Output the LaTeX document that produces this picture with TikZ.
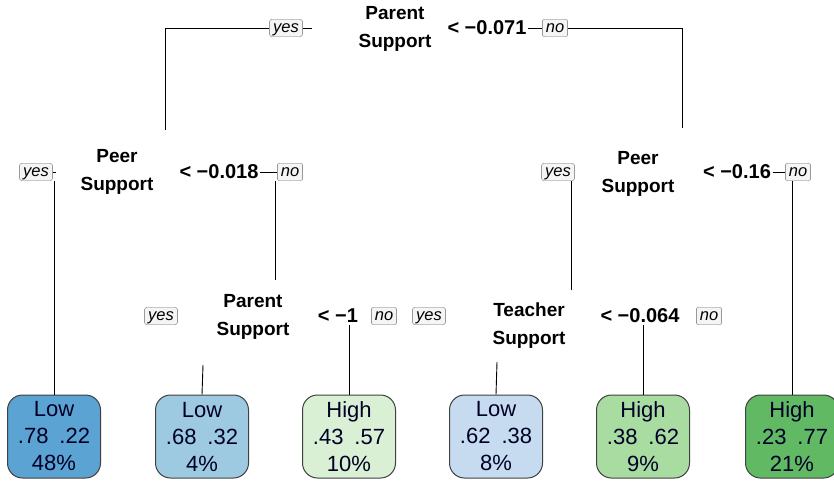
\documentclass[tikz,border=0pt]{standalone}
\usepackage{fontspec}
\setmainfont{Liberation Sans}
\usetikzlibrary{positioning}

\definecolor{leafA}{HTML}{5BA3D3}
\definecolor{leafB}{HTML}{9ECAE1}
\definecolor{leafC}{HTML}{DAF0D4}
\definecolor{leafD}{HTML}{C6DBEF}
\definecolor{leafE}{HTML}{A8DCA0}
\definecolor{leafF}{HTML}{62B964}

\begin{document}
\begin{tikzpicture}[
  x=1pt, y=-1pt,
  leaf/.style={draw=black!75, line width=1pt, rounded corners=15pt,
    minimum width=93pt, minimum height=83pt, align=center,
    font=\fontsize{22}{27}\selectfont, text=black!85!blue},
  split/.style={align=center, font=\bfseries\fontsize{19}{28}\selectfont},
  cond/.style={font=\bfseries\fontsize{20}{24}\selectfont, inner sep=1.5pt},
  yesno/.style={draw=black!60, fill=black!4, rounded corners=2pt,
    font=\itshape\fontsize{16.5}{16.5}\selectfont, inner xsep=3.5pt, inner ysep=0pt,
    minimum height=17pt, text height=9pt, text depth=0pt},
  edge/.style={line width=0.9pt}
]
\useasboundingbox (0,0) rectangle (834,486);

% Root split
\node[split] (s1) at (395,29) {Parent\\Support};
\node[cond] (c1) at (487,28) {< −0.071};
\node[yesno] (y1) at (286,28) {yes};
\node[yesno] (n1) at (555,28) {no};
\coordinate (t1) at (312,28);
\coordinate (e1) at (165,130);
\coordinate (e2) at (682,128);

% Left split
\node[split] (s2) at (117,172) {Peer\\Support};
\node[cond] (c2) at (219,172) {< −0.018};
\node[yesno] (y2) at (36,172) {yes};
\node[yesno] (n2) at (290,172) {no};
\coordinate (e3) at (275,280);

% Right split
\node[split] (s4) at (638,174) {Peer\\Support};
\node[cond] (c4) at (737,172) {< −0.16};
\node[yesno] (y4) at (558,172) {yes};
\node[yesno] (n4) at (798,172) {no};
\coordinate (e5) at (571,290);

% Lower splits
\node[split] (s3) at (253,317) {Parent\\Support};
\node[cond] (c3) at (338,316) {< −1};
\node[yesno] (y3) at (161,316) {yes};
\node[yesno] (n3) at (384,316) {no};
\coordinate (e4) at (203,365);

\node[split] (s5) at (529,326) {Teacher\\Support};
\node[cond] (c5) at (640,316) {< −0.064};
\node[yesno] (y5) at (429,316) {yes};
\node[yesno] (n5) at (709,316) {no};
\coordinate (e6) at (497,362);

% Leaves
\node[leaf, fill=leafA] (L1) at (54,436.5) {Low\\.78\hspace{11pt}.22\\48\%};
\node[leaf, fill=leafB] (L2) at (202,436.5) {Low\\.68\hspace{11pt}.32\\4\%};
\node[leaf, fill=leafC] (L3) at (349,436.5) {High\\.43\hspace{11pt}.57\\10\%};
\node[leaf, fill=leafD] (L4) at (496,436.5) {Low\\.62\hspace{11pt}.38\\8\%};
\node[leaf, fill=leafE] (L5) at (643,436.5) {High\\.38\hspace{11pt}.62\\9\%};
\node[leaf, fill=leafF] (L6) at (792,436.5) {High\\.23\hspace{11pt}.77\\21\%};

% Branches
\draw[edge] (e1) |- (y1.west);
\draw[edge] (y1.east) -- (t1);
\draw[edge] (c1.east) -- (n1.west);
\draw[edge] (n1.east) -| (e2);

\draw[edge] (y2.east) -- ++(3,0);
\draw[edge] (L1.north) -- (L1.north |- y2.south);
\draw[edge] (c2.east) -- (n2.west);
\draw[edge] (e3) -- (e3 |- n2.south);

\draw[edge] (e5) -- (e5 |- y4.south);
\draw[edge] (c4.east) -- (n4.west);
\draw[edge] (L6.north) -- (L6.north |- n4.south);

\draw[edge] (L2.north) -- (e4);
\draw[edge] (L3.north) -- (L3.north |- c3.south);

\draw[edge] (L4.north) -- (e6);
\draw[edge] (L5.north) -- (L5.north |- c5.south);
\end{tikzpicture}
\end{document}
